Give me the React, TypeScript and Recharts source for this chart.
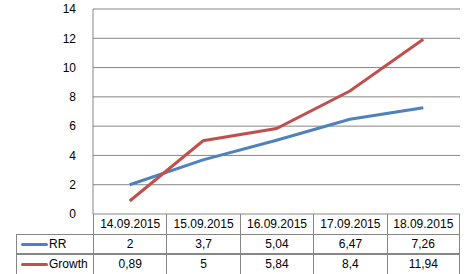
import { LineChart, Line, XAxis, YAxis, CartesianGrid } from "recharts";

const dates = ["14.09.2015", "15.09.2015", "16.09.2015", "17.09.2015", "18.09.2015"];
const rrValues = [2, 3.7, 5.04, 6.47, 7.26];
const growthValues = [0.89, 5, 5.84, 8.4, 11.94];
const yTicks = [0, 2, 4, 6, 8, 10, 12, 14];

const series = [
  { key: "RR", label: "RR", color: "#4f81bd", values: rrValues },
  { key: "Growth", label: "Growth", color: "#c0504d", values: growthValues },
];

const rows = dates.map((d, i) => ({ date: d, RR: rrValues[i], Growth: growthValues[i] }));

const GRID = "#868686";
const FONT = "'Liberation Sans', Arial, sans-serif";

// plot box
const PLOT_LEFT = 93;
const PLOT_RIGHT = 460;
const TABLE_TOP = 214;
const ROW_H = 20;
const LEGEND_LEFT = 16;
const colW = (PLOT_RIGHT - PLOT_LEFT) / dates.length;

function fmt(v: number) {
  return String(v).replace(".", ",");
}

function DataTable() {
  const cells: JSX.Element[] = [];
  // header row
  dates.forEach((d, i) => {
    cells.push(
      <div
        key={"h" + i}
        style={{
          position: "absolute",
          left: PLOT_LEFT + i * colW,
          top: TABLE_TOP,
          width: colW,
          height: ROW_H,
          borderLeft: `1px solid ${GRID}`,
          borderRight: i === dates.length - 1 ? `1px solid ${GRID}` : undefined,
          boxSizing: "border-box",
          textAlign: "center",
          lineHeight: ROW_H + "px",
        }}
      >
        {d}
      </div>
    );
  });
  series.forEach((s, r) => {
    const top = TABLE_TOP + ROW_H * (r + 1);
    const h = r === series.length - 1 ? ROW_H + 2 : ROW_H;
    cells.push(
      <div
        key={"l" + r}
        style={{
          position: "absolute",
          left: LEGEND_LEFT,
          top,
          width: PLOT_LEFT - LEGEND_LEFT,
          height: h,
          borderLeft: `1px solid ${GRID}`,
          borderTop: `1px solid ${GRID}`,
          borderBottom: `1px solid ${GRID}`,
          boxSizing: "border-box",
          lineHeight: ROW_H - 2 + "px",
        }}
      >
        <span
          style={{
            position: "absolute",
            left: 4,
            top: 8,
            width: 27,
            height: 3,
            borderRadius: 2,
            background: s.color,
          }}
        />
        <span style={{ position: "absolute", left: 32 }}>{s.label}</span>
      </div>
    );
    s.values.forEach((v, i) => {
      cells.push(
        <div
          key={"c" + r + "-" + i}
          style={{
            position: "absolute",
            left: PLOT_LEFT + i * colW,
            top,
            width: colW,
            height: h,
            borderLeft: `1px solid ${GRID}`,
            borderTop: `1px solid ${GRID}`,
            borderBottom: `1px solid ${GRID}`,
            borderRight: i === dates.length - 1 ? `1px solid ${GRID}` : undefined,
            boxSizing: "border-box",
            textAlign: "center",
            lineHeight: ROW_H - 2 + "px",
          }}
        >
          {fmt(v)}
        </div>
      );
    });
  });
  return <>{cells}</>;
}

export default function App() {
  return (
    <div
      style={{
        position: "absolute",
        left: 0,
        top: 0,
        width: 466,
        height: 274,
        overflow: "hidden",
        background: "#fff",
        fontFamily: FONT,
        fontSize: 12,
        color: "#000",
      }}
    >
      <LineChart
        width={466}
        height={TABLE_TOP + 16}
        data={rows}
        margin={{ top: 9, right: 466 - PLOT_RIGHT, left: 0, bottom: 16 }}
      >
        <CartesianGrid vertical={false} stroke={GRID} strokeWidth={1} />
        <XAxis
          dataKey="date"
          hide
          padding={{ left: colW / 2, right: colW / 2 }}
        />
        <YAxis
          width={PLOT_LEFT}
          domain={[0, 14]}
          ticks={yTicks}
          interval={0}
          tickLine={false}
          axisLine={{ stroke: GRID }}
          tickMargin={11}
          tick={{ fill: "#000", fontSize: 12, fontFamily: FONT }}
        />
        {series.map((s) => (
          <Line
            key={s.key}
            dataKey={s.key}
            type="linear"
            stroke={s.color}
            strokeWidth={3}
            dot={false}
            isAnimationActive={false}
          />
        ))}
      </LineChart>
      <DataTable />
    </div>
  );
}
